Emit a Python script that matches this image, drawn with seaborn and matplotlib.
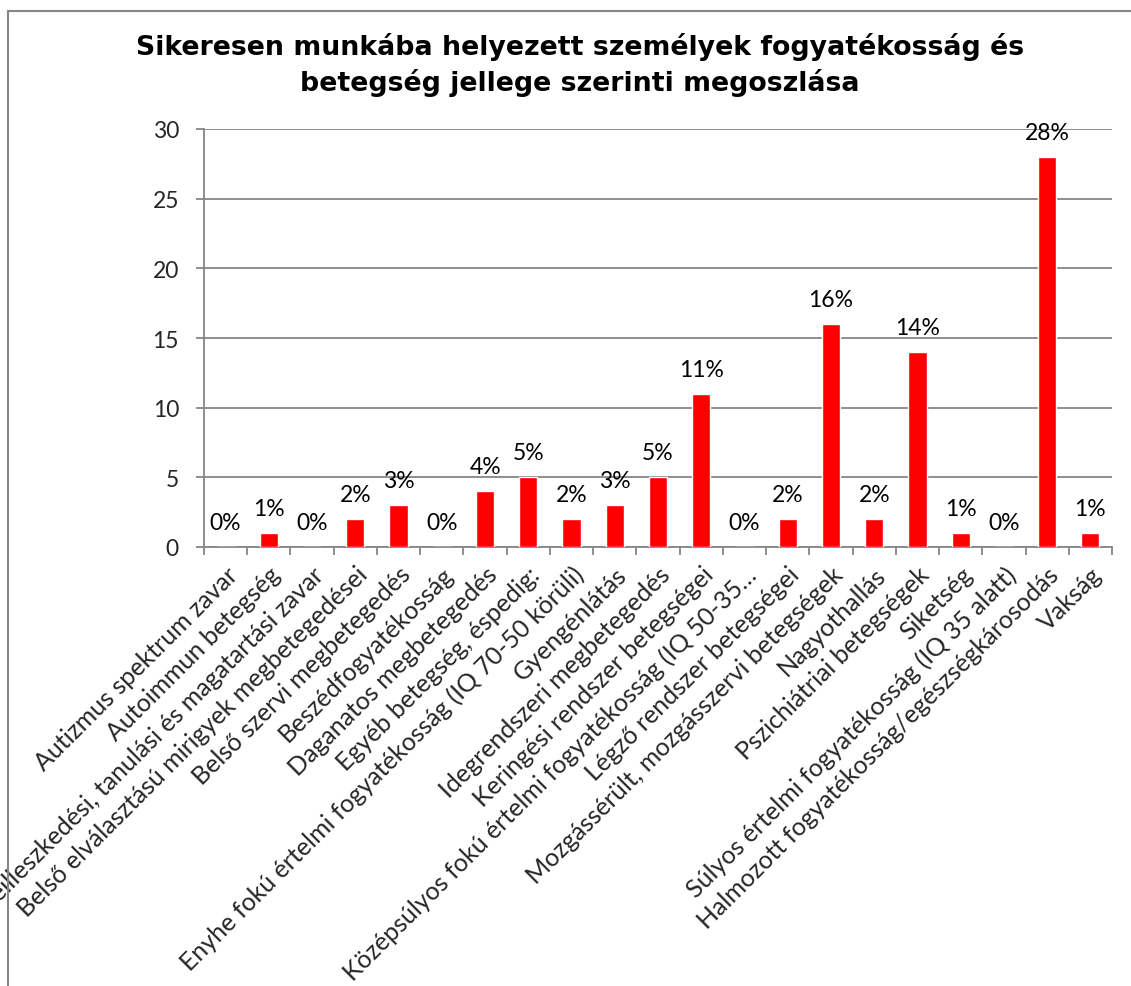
import matplotlib
matplotlib.use("Agg")
import matplotlib.pyplot as plt
import seaborn as sns
import pandas as pd
from matplotlib.patches import Rectangle

categories = [
    "Autizmus spektrum zavar",
    "Autoimmun betegség",
    "Beilleszkedési, tanulási és magatartási zavar",
    "Belső elválasztású mirigyek megbetegedései",
    "Belső szervi megbetegedés",
    "Beszédfogyatékosság",
    "Daganatos megbetegedés",
    "Egyéb betegség, éspedig:",
    "Enyhe fokú értelmi fogyatékosság (IQ 70-50 körüli)",
    "Gyengénlátás",
    "Idegrendszeri megbetegedés",
    "Keringési rendszer betegségei",
    "Középsúlyos fokú értelmi fogyatékosság (IQ 50-35…",
    "Légző rendszer betegségei",
    "Mozgássérült, mozgásszervi betegségek",
    "Nagyothallás",
    "Pszichiátriai betegségek",
    "Siketség",
    "Súlyos értelmi fogyatékosság (IQ 35 alatt)",
    "Halmozott fogyatékosság/egészségkárosodás",
    "Vakság",
]
values = [0, 1, 0, 2, 3, 0, 4, 5, 2, 3, 5, 11, 0, 2, 16, 2, 14, 1, 0, 28, 1]
value_labels = [f"{v}%" for v in values]
yticks = [0, 5, 10, 15, 20, 25, 30]
title = "Sikeresen munkába helyezett személyek fogyatékosság és\nbetegség jellege szerinti megoszlása"

W, H = 1131, 987
GREY = "#868686"
LABEL_FONT = ["Lato", "DejaVu Sans"]

sns.set_theme(style="white")
plt.rcParams["font.family"] = LABEL_FONT

fig = plt.figure(figsize=(W / 100, H / 100), dpi=100)
fig.patch.set_facecolor("white")
ax = fig.add_axes([204 / W, 1 - 548 / H, (1112 - 204) / W, (548 - 130) / H])

df = pd.DataFrame({"cat": categories, "val": values})
sns.barplot(data=df, x="cat", y="val", color="#FF0000", width=0.42,
            saturation=1, ax=ax, zorder=3)

ax.set_xlim(-0.5, len(categories) - 0.5)
ax.set_ylim(0, 30)
ax.set_yticks(yticks)
ax.set_yticklabels([str(t) for t in yticks], fontsize=16.5)
ax.set_xlabel("")
ax.set_ylabel("")

ax.grid(axis="y", color=GREY, linewidth=1.3, zorder=0)
ax.set_axisbelow(True)
for s in ["top", "right"]:
    ax.spines[s].set_visible(False)
for s in ["left", "bottom"]:
    ax.spines[s].set_color(GREY)
    ax.spines[s].set_linewidth(1.3)

ax.tick_params(axis="y", which="major", left=True, length=6, width=1.3,
               color=GREY, pad=12, labelsize=16.5)
ax.set_xticks(range(len(categories)))
ax.set_xticklabels(categories, fontsize=18)
ax.tick_params(axis="x", which="major", bottom=False, length=0, pad=11)
ax.set_xticks([i - 0.5 for i in range(len(categories) + 1)], minor=True)
ax.tick_params(axis="x", which="minor", bottom=True, length=6, width=1.3, color=GREY)
for lab in ax.get_xticklabels():
    lab.set_rotation(45)
    lab.set_ha("right")
    lab.set_va("top")
    lab.set_rotation_mode("anchor")

for i, (v, lab) in enumerate(zip(values, value_labels)):
    ax.annotate(lab, xy=(i, v), xytext=(0, 13), textcoords="offset points",
                ha="center", va="baseline", fontsize=16.5, color="black",
                annotation_clip=False)

fig.text(580 / W, 1 - 65 / H, title, ha="center", va="center",
         fontsize=19.3, fontweight="bold", family=["DejaVu Sans"],
         linespacing=1.32, color="black")

border = Rectangle((7.5 / W, -0.05), 1.2, 1 - 11.5 / H + 0.05,
                   transform=fig.transFigure, fill=False,
                   edgecolor=GREY, linewidth=1.5, zorder=0)
fig.patches.append(border)

fig.savefig("out.png", dpi=100, facecolor="white")
